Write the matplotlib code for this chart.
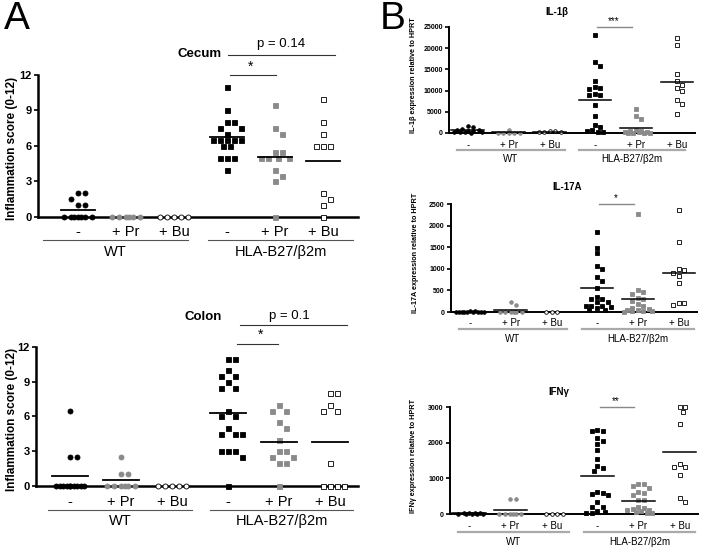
import numpy as np
import matplotlib
matplotlib.use("Agg")
import matplotlib.pyplot as plt
import matplotlib.transforms as mtransforms

plt.rcParams['font.family'] = ['Liberation Sans', 'DejaVu Sans']

cats = ['-', '+ Pr', '+ Bu', '-', '+ Pr', '+ Bu']
groups = ['WT', 'HLA-B27/β2m']
pos = [0, 1, 2, 3.1, 4.1, 5.1]

# A - inflammation scores
cecum = [
    [2, 2, 1.5, 1, 1, 0, 0, 0, 0, 0, 0, 0],
    [0, 0, 0, 0, 0, 0],
    [0, 0, 0, 0, 0],
    [11, 9, 8, 8, 7.5, 7.5, 7, 6.5, 6.5, 6.5, 6.5, 6.5, 6, 6, 5, 5, 5, 4],
    [9.5, 7.5, 7, 5.5, 5.5, 5, 5, 5, 5, 4, 3.5, 3, 0],
    [10, 8, 7, 6, 6, 6, 2, 1.5, 1, 0],
]
colon = [
    [6.5, 2.5, 2.5, 0, 0, 0, 0, 0, 0, 0, 0, 0, 0],
    [2.5, 1, 1, 0, 0, 0, 0, 0, 0],
    [0, 0, 0, 0, 0],
    [11, 11, 10, 9.5, 9.5, 9, 8.5, 8.5, 6.5, 6, 6, 5, 4.5, 4.5, 4.5, 3, 3, 3, 2.5, 0],
    [7, 6.5, 6.5, 5.5, 5, 4, 3, 3, 2.5, 2.5, 2, 2, 0],
    [8, 8, 7, 6.5, 6.5, 2, 0, 0, 0, 0],
]

# B - cytokine expression relative to HPRT
il1b = [
    [1600, 1300, 900, 700, 600, 500, 400, 300, 300, 200, 200, 100],
    [800, 100, 50, 50, 0, 0],
    [500, 400, 300, 300, 200],
    [23000, 16800, 15900, 12300, 10900, 10500, 10400, 9200, 9000, 8900, 6500,
     3900, 1800, 1500, 600, 400, 200, 300],
    [5600, 4000, 3400, 800, 500, 400, 300, 200, 200, 100, 100, 50, 50],
    [22300, 20800, 13800, 12300, 11300, 10500, 9900, 7800, 6800, 4500],
]
il17a = [
    [30, 20, 10, 10, 0, 0, 0, 0, 0, 0, 0],
    [230, 170, 10, 0, 0, 0, 0, 0],
    [0, 0, 0],
    [1860, 1490, 1360, 1070, 990, 800, 720, 560, 350, 310, 300, 220, 230, 130,
     130, 120, 90, 50, 40, 150],
    [2270, 510, 470, 420, 330, 300, 250, 180, 140, 100, 70, 50, 30, 20, 20, 40, 0],
    [2370, 1610, 1000, 970, 900, 840, 680, 200, 170, 200],
]
ifng = [
    [40, 30, 20, 20, 10, 10, 0, 0, 0],
    [420, 420, 10, 0, 0, 0, 0, 0],
    [0, 0, 0, 0],
    [2350, 2320, 2330, 2140, 2040, 1960, 1790, 1530, 1360, 1280, 1210, 610, 540,
     600, 560, 330, 210, 210, 80, 60, 30, 20],
    [850, 830, 780, 740, 620, 580, 540, 400, 380, 200, 180, 150, 120, 100, 80,
     50, 30, 20],
    [3000, 2860, 3000, 2510, 1390, 1330, 1330, 1080, 350, 445],
]

GRAY = '#8a8a8a'


def swarm(ax, center, vals, sep, maxw):
    # simple beeswarm in pixel space, points squeezed together when row is full
    cx = ax.transData.transform((center, 0))[0]
    step = sep / 2
    cands = [0.0]
    for k in range(1, int(maxw / step) + 1):
        cands += [k * step, -k * step]
    placed = []
    for v in sorted(vals, reverse=True):
        py = ax.transData.transform((center, v))[1]
        best, bestd = 0.0, -1
        for off in cands:
            d = min([np.hypot(cx + off - qx, py - qy) for qx, qy in placed] or [1e9])
            if d >= sep:
                best = off
                break
            if d > bestd:
                best, bestd = off, d
        placed.append((cx + best, py))
    inv = ax.transData.inverted()
    pts = np.array([inv.transform(p) for p in placed])
    return pts[:, 0], pts[:, 1]


def draw_panel(ax, data, ylim, yticks, ms, sep, mw, big):
    styles = [('o', 'black', 'black'), ('o', GRAY, GRAY), ('o', 'white', 'black'),
              ('s', 'black', 'black'), ('s', GRAY, GRAY), ('s', 'white', 'black')]
    ax.set_ylim(ylim)
    for i, vals in enumerate(data):
        m, fc, ec = styles[i]
        xs, ys = swarm(ax, pos[i], vals, sep, 15)
        ax.plot(xs, ys, ls='none', marker=m, ms=ms, mfc=fc, mec=ec,
                mew=0.6, clip_on=False, zorder=3)
        mu = np.mean(vals)
        if mu > 0:
            ax.plot([pos[i] - mw, pos[i] + mw], [mu, mu], color='black',
                    lw=1.3 if big else 1.1, zorder=4, clip_on=False)
    ax.set_yticks(yticks)
    ax.set_xticks([])
    for s in ['top', 'right']:
        ax.spines[s].set_visible(False)
    ax.spines['left'].set_linewidth(1.8 if big else 1.4)
    ax.spines['bottom'].set_linewidth(1.8 if big else 1.4)
    ax.tick_params(axis='y', direction='out', length=3, width=1.2,
                   labelsize=8 if big else 5, pad=1.5)
    for lab in ax.get_yticklabels():
        lab.set_fontweight('bold')


def labels_below(ax, cat_y, line_y, grp_y, wt_span, hla_span, fs, lcol, lw):
    tr = mtransforms.blended_transform_factory(ax.transData, ax.transAxes)
    for p, c in zip(pos, cats):
        ax.text(p, cat_y, c, transform=tr, ha='center', va='center', fontsize=fs)
    for span, g in zip([wt_span, hla_span], groups):
        ax.plot(span, [line_y, line_y], transform=tr, color=lcol, lw=lw, clip_on=False)
        ax.text(np.mean(span), grp_y, g, transform=tr, ha='center', va='center',
                fontsize=fs)


def bracket(ax, x0, x1, y, txt, ty, tx, fs, col, lw):
    tr = mtransforms.blended_transform_factory(ax.transData, ax.transAxes)
    ax.plot([x0, x1], [y, y], transform=tr, color=col, lw=lw, clip_on=False)
    ax.text(tx, ty, txt, transform=tr, ha='center', va='center', fontsize=fs)


fig = plt.figure(figsize=(7.04, 5.53), dpi=100)

# ---- A: cecum
ax1 = fig.add_axes([0.054, 0.6076, 0.4545, 0.2568])
ax1.set_xlim(-0.83, 5.83)
draw_panel(ax1, cecum, (0, 12), [0, 3, 6, 9, 12], 3.6, 7.0, 0.36, True)
labels_below(ax1, -0.105, -0.162, -0.246, [-0.73, 2.29], [2.71, 5.73], 10.5, '#555555', 0.8)
bracket(ax1, 3.17, 4.12, 1.0, '*', 1.06, 3.6, 10, '#333333', 0.8)
bracket(ax1, 3.12, 5.35, 1.14, 'p = 0.14', 1.215, 4.23, 9.5, '#333333', 0.8)
ax1.text(2.54, 1.148, 'Cecum', transform=mtransforms.blended_transform_factory(
    ax1.transData, ax1.transAxes), ha='center', va='center', fontsize=9.5, fontweight='bold')
ax1.text(-0.08, 0.48, 'Inflammation score (0-12)', transform=ax1.transAxes,
         rotation=90, ha='center', va='center', fontsize=8.5, fontweight='bold')

# ---- A: colon
ax2 = fig.add_axes([0.0511, 0.1212, 0.4574, 0.2514])
ax2.set_xlim(-0.67, 5.65)
draw_panel(ax2, colon, (0, 12), [0, 3, 6, 9, 12], 3.6, 7.0, 0.36, True)
labels_below(ax2, -0.115, -0.173, -0.25, [-0.43, 2.39], [2.75, 5.55], 10.5, '#555555', 0.8)
bracket(ax2, 3.27, 4.08, 1.02, '*', 1.086, 3.73, 10, '#333333', 0.8)
bracket(ax2, 3.33, 5.43, 1.158, 'p = 0.1', 1.225, 4.31, 9.5, '#333333', 0.8)
ax2.text(2.61, 1.216, 'Colon', transform=mtransforms.blended_transform_factory(
    ax2.transData, ax2.transAxes), ha='center', va='center', fontsize=9.5, fontweight='bold')
ax2.text(-0.075, 0.48, 'Inflammation score (0-12)', transform=ax2.transAxes,
         rotation=90, ha='center', va='center', fontsize=8.5, fontweight='bold')

# ---- B panels
b_axes = [
    ([0.6378, 0.7595, 0.3494, 0.1917], il1b, (0, 25000), range(0, 25001, 5000),
     'IL-1β', '***', -0.113, -0.16, -0.245, [-0.27, 2.37], [2.7, 5.3], 1.14, 2.17, 0.55),
    ([0.6406, 0.4358, 0.3494, 0.1953], il17a, (0, 2500), range(0, 2501, 500),
     'IL-17A', '*', -0.10, -0.157, -0.25, [-0.27, 2.37], [2.73, 5.46], 1.157, 2.37, 0.546),
    ([0.6392, 0.0705, 0.3523, 0.1935], ifng, (0, 3000), range(0, 3001, 1000),
     'IFNγ', '**', -0.112, -0.168, -0.26, [-0.27, 2.41], [2.78, 5.46], 1.14, 2.17, 0.54),
]
for rect, data, ylim, yt, title, star, cy, ly, gy, wsp, hsp, tty, ttx, yly in b_axes:
    ax = fig.add_axes(rect)
    ax.set_xlim(-0.46, 5.54)
    draw_panel(ax, data, ylim, list(yt), 2.6, 5.5, 0.4, False)
    labels_below(ax, cy, ly, gy, wsp, hsp, 7, '#aaaaaa', 1.6)
    bracket(ax, 3.16, 4.0, 1.0, star, 1.055, 3.56, 7, '#888888', 1.0)
    ax.text(ttx, tty, title, transform=mtransforms.blended_transform_factory(
        ax.transData, ax.transAxes), ha='center', va='center', fontsize=7, fontweight='bold')
    ax.text(-0.146, yly, title + ' expression relative to HPRT', transform=ax.transAxes,
            rotation=90, ha='center', va='center', fontsize=5.2, fontweight='bold')

fig.text(0.006, 0.998, 'A', fontsize=28, ha='left', va='top')
fig.text(0.54, 0.998, 'B', fontsize=28, ha='left', va='top')

fig.savefig('out.png', dpi=100)
